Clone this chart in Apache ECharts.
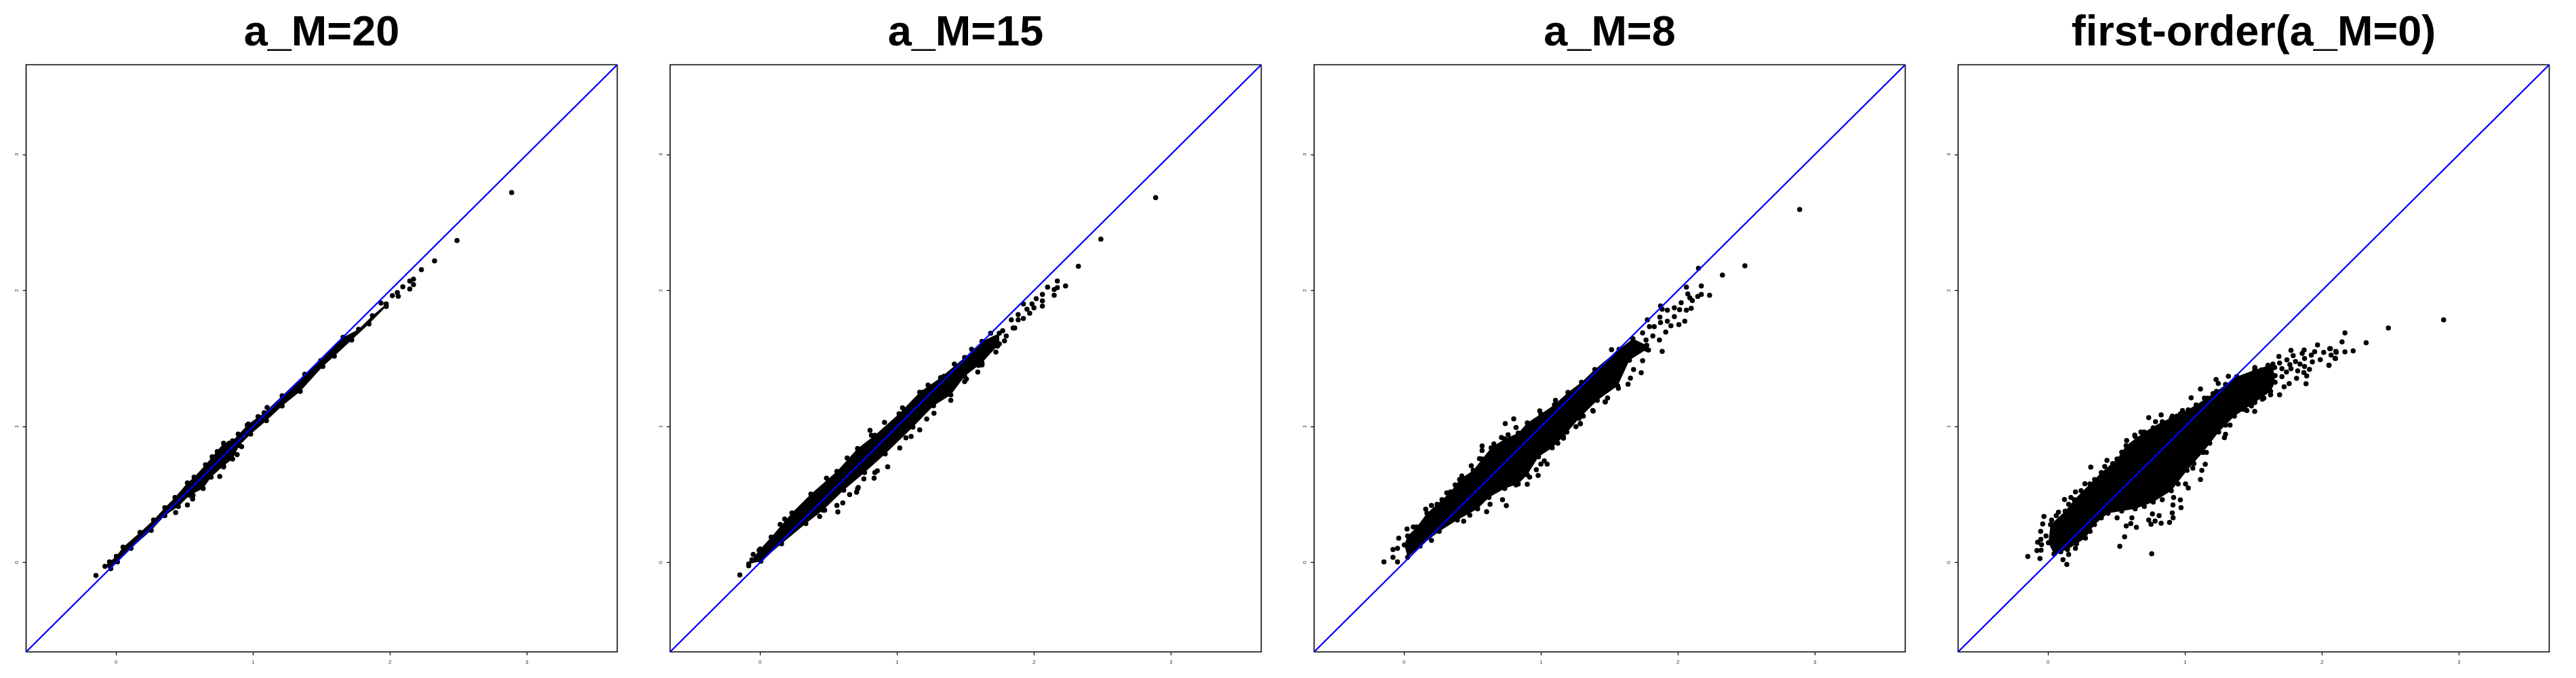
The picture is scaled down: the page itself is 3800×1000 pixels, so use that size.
<!DOCTYPE html>
<html>
<head>
<meta charset="utf-8">
<title>scatter panels</title>
<script src="https://cdn.jsdelivr.net/npm/echarts@6/dist/echarts.min.js"></script>
<style>
html, body { margin: 0; padding: 0; background: #fff; }
#chart { width: 3800px; height: 1000px; }
</style>
</head>
<body>
<div id="chart"></div>
<script>
// values
const panelTitles = ["a_M=20", "a_M=15", "a_M=8", "first-order(a_M=0)"];
const tickValues = [0, 1, 2, 3];
const axisMin = -0.657;
const axisMax = 3.66;
const diagonal = [[axisMin, axisMin], [axisMax, axisMax]];

// a_M=20
const upperM20 = [[-0.081,-0.028],[-0.048,0.005],[0.002,0.046],[0.051,0.113],[0.175,0.221],[0.274,0.312],[0.356,0.404],[0.430,0.478],[0.521,0.586],[0.570,0.628],[0.653,0.719],[0.702,0.777],[0.785,0.877],[0.851,0.894],[0.966,1.018],[1.082,1.102],[1.213,1.226],[1.378,1.384],[1.494,1.484],[1.658,1.656],[1.771,1.715],[1.872,1.814],[1.973,1.902]];
const lowerM20 = [[-0.039,-0.045],[0.010,0.005],[0.109,0.105],[0.257,0.237],[0.356,0.345],[0.455,0.412],[0.537,0.495],[0.636,0.545],[0.694,0.628],[0.785,0.711],[0.851,0.761],[0.900,0.861],[0.983,0.944],[1.098,1.043],[1.213,1.151],[1.345,1.259],[1.510,1.442],[1.594,1.518],[1.721,1.636],[1.847,1.755],[1.973,1.883]];
const dotsM20 = [[2.889,2.720],[2.490,2.368],[2.326,2.218],[2.230,2.153],[2.172,2.084],[2.172,2.044],[2.145,2.070],[2.145,2.011],[2.094,2.027],[2.061,1.958],[2.054,1.985],[2.018,1.962],[1.935,1.908],[0.757,0.633],[0.521,0.424],[0.435,0.367],[0.559,0.467],[0.562,0.495],[0.739,0.816],[0.884,0.794],[0.785,0.703],[0.892,0.944],[1.037,1.073],[1.103,1.140],[0.801,0.860],[0.826,0.877],[0.958,1.010],[0.917,0.852],[-0.147,-0.095]];

// a_M=15
const upperM15 = [[-0.083,-0.010],[-0.007,0.089],[0.081,0.187],[0.233,0.365],[0.371,0.503],[0.561,0.670],[0.712,0.838],[0.838,0.936],[1.015,1.094],[1.166,1.252],[1.318,1.360],[1.494,1.508],[1.621,1.626],[1.747,1.686]];
const lowerM15 = [[0.006,0.010],[0.157,0.138],[0.334,0.286],[0.460,0.385],[0.611,0.532],[0.763,0.661],[0.914,0.798],[1.116,0.996],[1.267,1.153],[1.393,1.232],[1.494,1.370],[1.621,1.469],[1.747,1.607]];
const dotsM15 = [[2.889,2.683],[2.489,2.377],[2.325,2.178],[2.231,2.034],[2.171,2.070],[2.171,2.021],[2.148,2.007],[2.148,1.965],[2.100,2.025],[2.062,1.971],[2.062,1.924],[2.062,1.885],[2.017,1.940],[1.986,1.902],[1.923,1.902],[2.000,1.873],[1.969,1.833],[1.923,1.794],[1.885,1.784],[1.860,1.725],[1.835,1.784],[1.785,1.630],[1.734,1.591],[1.621,1.453],[1.590,1.400],[1.507,1.350],[1.227,1.305],[1.040,1.138],[0.909,1.031],[0.803,0.972],[1.270,1.098],[1.166,0.976],[1.103,0.927],[1.020,0.842],[0.932,0.704],[0.856,0.674],[0.833,0.621],[0.758,0.615],[0.717,0.552],[0.705,0.517],[0.654,0.499],[0.604,0.438],[0.561,0.420],[0.568,0.373],[0.435,0.339],[0.472,0.385],[0.180,0.320],[0.147,0.280],[0.001,0.099],[-0.050,0.059],[-0.060,0.020],[-0.083,-0.024],[-0.148,-0.091],[-0.025,0.036],[0.485,0.621],[0.636,0.769],[0.813,0.936],[1.192,1.252],[1.343,1.370],[1.419,1.459],[1.545,1.567],[1.684,1.686],[1.772,1.705],[0.712,0.542],[0.838,0.661],[1.065,0.917],[1.217,1.055],[1.393,1.193],[1.494,1.331],[1.596,1.449],[1.722,1.548],[1.798,1.666],[1.848,1.725],[1.885,1.823],[1.949,1.863]];

// a_M=8
const upperM8 = [[0.002,0.129],[0.026,0.196],[0.093,0.262],[0.167,0.362],[0.241,0.429],[0.340,0.520],[0.406,0.611],[0.505,0.678],[0.570,0.761],[0.636,0.844],[0.735,0.910],[0.834,0.952],[0.900,1.027],[0.999,1.093],[1.098,1.160],[1.197,1.251],[1.296,1.326],[1.393,1.419],[1.570,1.567],[1.671,1.646],[1.772,1.597]];
const lowerM8 = [[0.026,0.038],[0.117,0.121],[0.257,0.229],[0.389,0.312],[0.537,0.395],[0.620,0.478],[0.735,0.545],[0.834,0.578],[0.900,0.645],[0.982,0.777],[1.082,0.844],[1.164,0.927],[1.279,1.060],[1.411,1.193],[1.560,1.300],[1.646,1.488],[1.772,1.567]];
const dotsM8 = [[2.889,2.596],[2.489,2.182],[2.325,2.113],[2.150,2.163],[2.231,1.965],[2.171,2.034],[2.171,1.971],[2.145,1.956],[2.062,2.025],[2.072,1.975],[2.087,1.946],[2.105,1.926],[2.097,1.869],[2.062,1.855],[2.024,1.910],[2.012,1.859],[1.974,1.873],[1.923,1.855],[1.885,1.863],[1.873,1.887],[1.777,1.784],[1.868,1.804],[1.873,1.764],[1.923,1.774],[1.974,1.808],[2.050,1.774],[2.007,1.749],[1.949,1.741],[1.911,1.695],[1.865,1.636],[1.885,1.553],[1.827,1.735],[1.792,1.735],[1.742,1.689],[1.817,1.666],[1.767,1.636],[1.785,1.563],[1.742,1.484],[1.676,1.419],[1.732,1.396],[1.653,1.356],[1.636,1.311],[1.565,1.281],[1.515,1.565],[1.469,1.181],[1.381,1.114],[1.287,1.021],[-0.147,0.005],[-0.081,0.096],[-0.048,0.104],[-0.081,0.038],[-0.048,0.005],[-0.039,0.179],[0.022,0.246],[0.068,0.262],[0.158,0.392],[0.200,0.420],[0.312,0.512],[0.277,0.462],[0.422,0.636],[0.491,0.711],[0.551,0.764],[0.570,0.857],[0.570,0.824],[0.656,0.872],[0.711,0.919],[0.739,1.022],[0.801,1.057],[0.818,0.993],[0.760,0.939],[0.991,1.115],[1.106,1.193],[0.435,0.304],[0.480,0.349],[0.603,0.374],[0.628,0.429],[0.747,0.419],[0.719,0.462],[0.818,0.570],[0.900,0.575],[0.917,0.628],[0.979,0.640],[0.966,0.683],[0.999,0.724],[1.045,0.724],[1.024,0.748],[1.164,0.914],[1.189,0.960],[1.255,0.999],[1.288,1.022],[1.309,1.077],[1.378,1.118],[1.469,1.181],[1.486,1.210],[1.123,0.877],[0.200,0.163],[0.373,0.570]];

// first-order
const upperM0 = [[0.002,0.146],[0.018,0.279],[0.125,0.378],[0.191,0.462],[0.306,0.578],[0.389,0.661],[0.504,0.761],[0.570,0.860],[0.702,0.960],[0.834,1.035],[0.966,1.093],[1.081,1.159],[1.230,1.259],[1.378,1.367],[1.510,1.417],[1.642,1.459]];
const lowerM0 = [[0.043,0.063],[0.142,0.096],[0.273,0.179],[0.339,0.279],[0.438,0.362],[0.636,0.395],[0.768,0.445],[0.900,0.528],[1.015,0.678],[1.131,0.810],[1.246,0.960],[1.361,1.076],[1.510,1.176],[1.625,1.259],[1.658,1.326]];
const dotsM0 = [[2.889,1.785],[2.485,1.724],[2.323,1.616],[2.228,1.556],[2.168,1.689],[2.168,1.549],[2.147,1.623],[2.096,1.502],[2.102,1.553],[2.051,1.451],[2.057,1.572],[-0.148,0.045],[-0.059,0.030],[-0.081,0.088],[-0.051,0.091],[-0.076,0.149],[-0.053,0.171],[-0.048,0.132],[-0.054,0.229],[-0.039,0.284],[-0.030,0.339],[-0.015,0.196],[0.026,0.312],[0.076,0.370],[0.120,0.463],[0.167,0.478],[0.200,0.520],[0.269,0.579],[0.312,0.702],[0.340,0.611],[0.430,0.751],[0.414,0.707],[0.574,0.897],[0.633,0.937],[0.678,0.960],[0.735,1.065],[0.785,1.035],[0.826,1.085],[0.908,1.076],[0.941,1.076],[0.982,1.118],[1.024,1.123],[1.045,1.211],[1.113,1.276],[1.142,1.209],[1.205,1.242],[1.227,1.346],[1.243,1.317],[1.317,1.370],[0.137,-0.014],[0.109,0.021],[0.150,0.059],[0.200,0.104],[0.265,0.187],[0.524,0.119],[0.559,0.189],[0.571,0.269],[0.604,0.287],[0.645,0.259],[0.612,0.329],[0.504,0.329],[0.757,0.064],[0.735,0.312],[0.752,0.282],[0.782,0.305],[0.826,0.289],[0.887,0.295],[0.913,0.329],[0.907,0.365],[0.811,0.345],[0.762,0.358],[0.971,0.403],[0.912,0.423],[0.966,0.461],[0.917,0.478],[1.024,0.548],[1.004,0.578],[1.113,0.611],[1.123,0.678],[1.148,0.722],[1.057,0.694],[1.156,0.810],[1.057,0.752],[1.288,0.918],[1.296,0.943],[1.329,1.010],[1.509,1.111],[1.452,1.118],[1.485,1.151],[1.565,1.201],[1.691,1.233],[1.625,1.234],[1.724,1.292],[1.761,1.316],[1.884,1.314],[1.815,1.355],[1.889,1.372],[1.868,1.397],[1.909,1.420],[2.052,1.450],[2.099,1.500],[2.067,1.525],[2.104,1.545],[2.062,1.572],[2.013,1.545],[1.988,1.492],[1.947,1.550],[1.968,1.600],[1.930,1.475],[1.873,1.500],[1.856,1.538],[1.870,1.563],[1.922,1.525],[1.774,1.560],[1.686,1.515],[1.790,1.522],[1.744,1.490],[1.606,1.450],[1.766,1.455],[1.807,1.478],[1.840,1.459],[1.873,1.442],[1.691,1.467],[1.655,1.434],[1.708,1.425],[1.510,1.434],[1.774,1.425],[1.560,1.417],[1.658,1.375],[1.708,1.367],[1.823,1.409],[1.741,1.400],[0.060,0.345],[0.150,0.429],[0.241,0.528],[0.472,0.727],[0.538,0.811],[0.636,0.927],[0.768,0.990],[0.900,1.060],[1.032,1.118],[1.164,1.209],[1.296,1.309],[1.444,1.367],[1.576,1.409],[0.093,0.079],[0.208,0.138],[0.307,0.229],[0.389,0.329],[0.538,0.379],[0.703,0.412],[0.834,0.462],[0.950,0.578],[1.065,0.728],[1.181,0.877],[1.296,1.010],[1.428,1.126],[1.576,1.209]];

const uppers = [upperM20, upperM15, upperM8, upperM0];
const lowers = [lowerM20, lowerM15, lowerM8, lowerM0];
const dots = [dotsM20, dotsM15, dotsM8, dotsM0];

const chartInstance = echarts.init(document.getElementById("chart"), null, { renderer: "canvas" });

// the solid middle of each cloud, outlined by its upper and lower edge
function renderCore(points) {
  return function (params, api) {
    return {
      type: "polygon",
      shape: { points: points.map((p) => api.coord(p)) },
      style: { fill: "#000" },
    };
  };
}

const grids = [], xAxes = [], yAxes = [], series = [], titles = [];
panelTitles.forEach((name, i) => {
  const left = 38.5 + i * 950;
  titles.push({
    text: name,
    left: left + 431,
    top: 13,
    textAlign: "center",
    textStyle: { fontFamily: "Liberation Sans", fontWeight: "bold", fontSize: 63, color: "#000" },
  });
  grids.push({
    show: true,
    left: left,
    top: 95.5,
    width: 872,
    height: 866,
    borderColor: "#000",
    borderWidth: 1.6,
    backgroundColor: "transparent",
  });
  const axisBase = {
    type: "value",
    gridIndex: i,
    min: axisMin,
    max: axisMax,
    splitLine: { show: false },
    axisLine: { show: false, onZero: false },
    axisTick: { show: true, customValues: tickValues, length: 5, lineStyle: { color: "#000", width: 1.2 } },
  };
  const labelStyle = { customValues: tickValues, fontFamily: "Liberation Sans", fontSize: 8, color: "#333" };
  xAxes.push({ ...axisBase, axisLabel: { ...labelStyle, margin: 11 } });
  yAxes.push({ ...axisBase, axisLabel: { ...labelStyle, rotate: 90, margin: 10 } });

  const core = uppers[i].concat(lowers[i].slice().reverse());
  series.push({
    type: "custom",
    xAxisIndex: i,
    yAxisIndex: i,
    silent: true,
    z: 2,
    data: [core[0]],
    renderItem: renderCore(core),
  });
  series.push({
    type: "scatter",
    xAxisIndex: i,
    yAxisIndex: i,
    silent: true,
    z: 2,
    symbol: "circle",
    symbolSize: 7.5,
    itemStyle: { color: "#000", opacity: 1 },
    data: core.concat(dots[i]),
  });
  series.push({
    type: "line",
    xAxisIndex: i,
    yAxisIndex: i,
    silent: true,
    z: 3,
    symbol: "none",
    lineStyle: { color: "#0000ff", width: 2.4 },
    data: diagonal,
  });
});

chartInstance.setOption({
  animation: false,
  backgroundColor: "#fff",
  title: titles,
  grid: grids,
  xAxis: xAxes,
  yAxis: yAxes,
  series: series,
});
</script>
</body>
</html>
